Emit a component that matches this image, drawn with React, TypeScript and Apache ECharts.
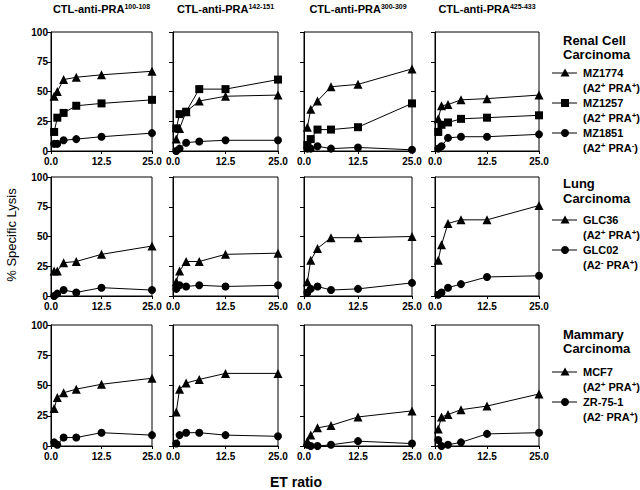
import React, { useEffect, useRef } from "react";
import * as echarts from "echarts";

// E:T ratios (x values)
const etRatio = [0.78, 1.56, 3.125, 6.25, 12.5, 25];
const epitopes = ["100-108", "142-151", "300-309", "425-433"];
const xTicks = [0, 12.5, 25];
const yTicks = [0, 25, 50, 75, 100];

// Renal cell carcinoma (one array per column / epitope)
const mz1774 = [
  [46, 50, 60, 62, 64, 67],
  [10, 19, 33, 42, 46, 47],
  [20, 35, 42, 54, 56, 69],
  [27, 38, 39, 43, 44, 47],
];
const mz1257 = [
  [16, 28, 32, 38, 40, 43],
  [19, 31, 33, 52, 52, 60],
  [5, 10, 18, 18, 20, 40],
  [16, 22, 24, 27, 28, 30],
];
const mz1851 = [
  [6, 6, 9, 10, 12, 15],
  [0, 2, 7, 8, 9, 9],
  [2, 2, 4, 2, 3, 1],
  [2, 4, 11, 12, 12, 14],
];
// Lung carcinoma
const glc36 = [
  [21, 21, 28, 29, 35, 42],
  [12, 21, 29, 29, 35, 36],
  [12, 30, 40, 49, 49, 50],
  [30, 43, 61, 64, 64, 76],
];
const glc02 = [
  [0, 2, 5, 3, 7, 5],
  [6, 9, 8, 9, 8, 9],
  [3, 6, 8, 5, 6, 11],
  [1, 3, 7, 10, 16, 17],
];
// Mammary carcinoma
const mcf7 = [
  [31, 40, 44, 47, 51, 56],
  [28, 47, 52, 55, 60, 60],
  [4, 9, 15, 17, 24, 29],
  [14, 24, 26, 30, 33, 43],
];
const zr751 = [
  [3, 1, 7, 7, 11, 9],
  [2, 9, 11, 11, 9, 8],
  [1, 0, 0, 1, 4, 2],
  [5, 0, 1, 3, 10, 11],
];

const groups = [
  {
    heading: ["Renal Cell", "Carcinoma"],
    lines: [
      { name: "MZ1774", a2: "+", pra: "+", symbol: "triangle", data: mz1774 },
      { name: "MZ1257", a2: "+", pra: "+", symbol: "rect", data: mz1257 },
      { name: "MZ1851", a2: "+", pra: "-", symbol: "circle", data: mz1851 },
    ],
  },
  {
    heading: ["Lung", "Carcinoma"],
    lines: [
      { name: "GLC36", a2: "+", pra: "+", symbol: "triangle", data: glc36 },
      { name: "GLC02", a2: "-", pra: "+", symbol: "circle", data: glc02 },
    ],
  },
  {
    heading: ["Mammary", "Carcinoma"],
    lines: [
      { name: "MCF7", a2: "+", pra: "+", symbol: "triangle", data: mcf7 },
      { name: "ZR-75-1", a2: "-", pra: "+", symbol: "circle", data: zr751 },
    ],
  },
];

const FONT = "'Liberation Sans', Arial, sans-serif";
const cols = [
  { left: 51, width: 101 },
  { left: 173, width: 105 },
  { left: 304, width: 108 },
  { left: 435, width: 104 },
];
const rows = [
  { top: 32, height: 119 },
  { top: 177, height: 119 },
  { top: 325, height: 121 },
];
// legend layout: heading y's and item y's
const legendLayout = [
  { head: [40, 54], items: [73, 103, 133] },
  { head: [183, 198], items: [220, 250] },
  { head: [334, 348], items: [372, 402] },
];

const symSize: Record<string, number> = { triangle: 9, rect: 8, circle: 8 };

function legendMarker(symbol: string, cx: number, cy: number) {
  if (symbol === "triangle") {
    return {
      type: "polygon",
      shape: { points: [[cx, cy - 4.5], [cx - 4.5, cy + 3.5], [cx + 4.5, cy + 3.5]] },
      style: { fill: "#000" },
    };
  }
  if (symbol === "rect") {
    return { type: "rect", shape: { x: cx - 4, y: cy - 4, width: 8, height: 8 }, style: { fill: "#000" } };
  }
  return { type: "circle", shape: { cx, cy, r: 4 }, style: { fill: "#000" } };
}

export default function App() {
  const ref = useRef<HTMLDivElement>(null);
  useEffect(() => {
    if (!ref.current) return;
    const chart = echarts.init(ref.current, null, { renderer: "svg" });
    const grid: any[] = [];
    const xAxis: any[] = [];
    const yAxis: any[] = [];
    const series: any[] = [];
    let gi = 0;
    groups.forEach((g, r) => {
      cols.forEach((c, ci) => {
        grid.push({
          left: c.left,
          width: c.width,
          top: rows[r].top,
          height: rows[r].height,
          show: true,
          borderColor: "#000",
          borderWidth: 1,
          backgroundColor: "transparent",
        });
        xAxis.push({
          type: "value",
          gridIndex: gi,
          min: xTicks[0],
          max: xTicks[xTicks.length - 1],
          interval: xTicks[1] - xTicks[0],
          axisLine: { show: true, lineStyle: { color: "#000", width: 1 } },
          axisTick: { show: true, length: 3, lineStyle: { color: "#000" } },
          splitLine: { show: false },
          axisLabel: {
            formatter: (v: number) => v.toFixed(1),
            color: "#000",
            fontWeight: "bold",
            fontSize: 10,
            fontFamily: FONT,
            margin: 5,
          },
        });
        yAxis.push({
          type: "value",
          gridIndex: gi,
          min: yTicks[0],
          max: yTicks[yTicks.length - 1],
          interval: yTicks[1] - yTicks[0],
          axisLine: { show: true, lineStyle: { color: "#000", width: 1 } },
          axisTick: { show: true, length: 4, lineStyle: { color: "#000" } },
          splitLine: { show: false },
          axisLabel: {
            show: ci === 0,
            color: "#000",
            fontWeight: "bold",
            fontSize: 10,
            fontFamily: FONT,
            margin: 3,
          },
        });
        g.lines.forEach((ln) => {
          series.push({
            type: "line",
            name: ln.name,
            xAxisIndex: gi,
            yAxisIndex: gi,
            data: etRatio.map((x, k) => [x, ln.data[ci][k]]),
            symbol: ln.symbol,
            symbolSize: symSize[ln.symbol],
            showSymbol: true,
            lineStyle: { color: "#000", width: 1 },
            itemStyle: { color: "#000" },
            emphasis: { disabled: true },
          });
        });
        gi++;
      });
    });

    const graphic: any[] = [];
    // column titles
    cols.forEach((c, ci) => {
      graphic.push({
        type: "text",
        x: c.left + c.width / 2,
        y: 9,
        style: {
          text: `{t|CTL-anti-PRA}{s|${epitopes[ci]}}`,
          align: "center",
          verticalAlign: "middle",
          rich: {
            t: { fontSize: 11, fontWeight: "bold", fontFamily: FONT, fill: "#000", lineHeight: 13 },
            s: { fontSize: 7, fontWeight: "bold", fontFamily: FONT, fill: "#000", verticalAlign: "top", lineHeight: 13 },
          },
        },
      });
    });
    // y axis title
    graphic.push({
      type: "text",
      x: 11,
      y: 235,
      rotation: Math.PI / 2,
      style: {
        text: "% Specific Lysis",
        align: "center",
        verticalAlign: "middle",
        fontSize: 13,
        fontFamily: FONT,
        fill: "#000",
      },
    });
    // x axis title
    graphic.push({
      type: "text",
      x: 296,
      y: 482,
      style: {
        text: "ET ratio",
        align: "center",
        verticalAlign: "middle",
        fontSize: 14,
        fontWeight: "bold",
        fontFamily: FONT,
        fill: "#000",
      },
    });
    // legends
    groups.forEach((g, r) => {
      const L = legendLayout[r];
      g.heading.forEach((h, hi) => {
        graphic.push({
          type: "text",
          x: 563,
          y: L.head[hi],
          style: {
            text: h,
            align: "left",
            verticalAlign: "middle",
            fontSize: 13,
            fontWeight: "bold",
            fontFamily: FONT,
            fill: "#000",
          },
        });
      });
      g.lines.forEach((ln, li) => {
        const y = L.items[li];
        graphic.push({
          type: "line",
          shape: { x1: 552, y1: y, x2: 577, y2: y },
          style: { stroke: "#000", lineWidth: 1 },
        });
        graphic.push(legendMarker(ln.symbol, 565, y));
        graphic.push({
          type: "text",
          x: 583,
          y,
          style: {
            text: ln.name,
            align: "left",
            verticalAlign: "middle",
            fontSize: 11,
            fontWeight: "bold",
            fontFamily: FONT,
            fill: "#000",
          },
        });
        graphic.push({
          type: "text",
          x: 583,
          y: y + 15,
          style: {
            text: `{a|(A2}{s|${ln.a2}}{a| PRA}{s|${ln.pra}}{a|)}`,
            align: "left",
            verticalAlign: "middle",
            rich: {
              a: { fontSize: 11, fontWeight: "bold", fontFamily: FONT, fill: "#000", lineHeight: 13 },
              s: { fontSize: 8, fontWeight: "bold", fontFamily: FONT, fill: "#000", verticalAlign: "top", lineHeight: 13 },
            },
          },
        });
      });
    });

    chart.setOption({
      animation: false,
      backgroundColor: "#fff",
      grid,
      xAxis,
      yAxis,
      series,
      graphic,
    });
    return () => chart.dispose();
  }, []);
  return (
    <div
      ref={ref}
      style={{ position: "fixed", left: 0, top: 0, width: 640, height: 490 }}
    />
  );
}
